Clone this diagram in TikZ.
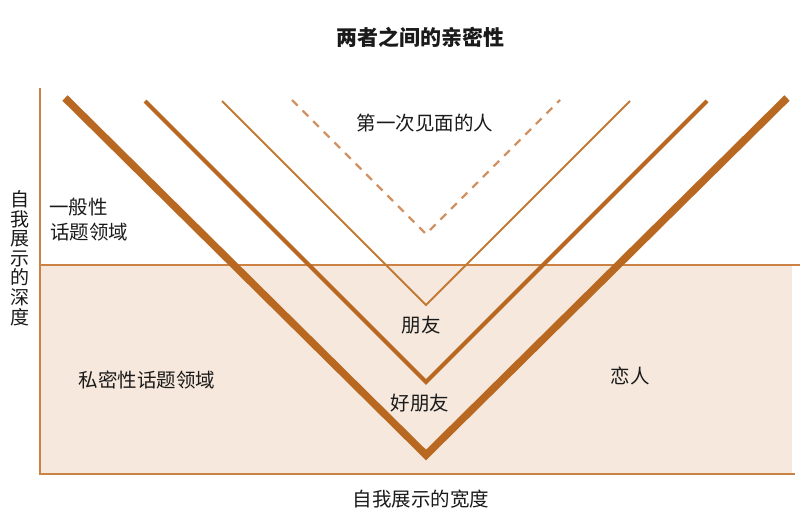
\documentclass[tikz,border=0pt]{standalone}
\usepackage{fontspec}
\newfontfamily\cjk{Noto Sans CJK SC}
\definecolor{thickc}{HTML}{B86820}
\definecolor{thinc}{HTML}{C27A35}
\definecolor{dashc}{HTML}{D09262}
\definecolor{axisc}{HTML}{CC8244}
\definecolor{fillc}{HTML}{F6E8DC}
\definecolor{txt}{HTML}{1A1A1A}
\tikzset{
  lbl/.style={inner sep=0pt, text=txt, font=\cjk\fontsize{19.5}{21}\selectfont},
  ttl/.style={inner sep=0pt, text=txt, font=\cjk\bfseries\fontsize{21}{23}\selectfont},
  axisline/.style={draw=axisc, line width=1.6pt},
  vthick/.style={draw=thickc, line width=7.5pt, line join=miter},
  vmed/.style={draw=thickc, line width=4pt, line join=miter},
  vthin/.style={draw=thinc, line width=1.8pt},
  vdash/.style={draw=dashc, line width=2.2pt, dash pattern=on 8pt off 7pt}
}
\begin{document}
\begin{tikzpicture}[x=1pt,y=-1pt]
\useasboundingbox (0,0) rectangle (800,524);
% shaded lower region
\fill[fillc] (40,265) rectangle (792,474);
% axes and divider
\coordinate (axtop) at (40,88);
\coordinate (axorig) at (40,474);
\coordinate (axright) at (795,474);
\coordinate (divl) at (40,265);
\coordinate (divr) at (800,265);
\draw[axisline] (divl) -- (divr);
\draw[axisline] (axtop) -- (axorig) -- (axright);
% V shapes
\coordinate (a1) at (65,98);   \coordinate (b1) at (426,455); \coordinate (c1) at (787,98);
\coordinate (a2) at (145,101); \coordinate (b2) at (426,382); \coordinate (c2) at (707,101);
\coordinate (a3) at (222,101); \coordinate (b3) at (426,305); \coordinate (c3) at (630,101);
\coordinate (a4) at (292,100); \coordinate (b4) at (426,234); \coordinate (c4) at (560,100);
\draw[vthick] (a1) -- (b1) -- (c1);
\draw[vmed] (a2) -- (b2) -- (c2);
\draw[vthin] (a3) -- (b3) -- (c3);
\draw[vdash] (a4) -- (b4) -- (c4);
% labels
\node[ttl] (title) at (420,37) {两者之间的亲密性};
\node[lbl] (first) at (425,123) {第一次见面的人};
\node[lbl, anchor=west] (gen1) at (49,207) {一般性};
\node[lbl, anchor=west] (gen2) at (50,232) {话题领域};
\node[lbl] (friend) at (421,325) {朋友};
\node[lbl] (good) at (420,403) {好朋友};
\node[lbl] (priv) at (147,380) {私密性话题领域};
\node[lbl] (lover) at (630,376) {恋人};
\node[lbl] (xlab) at (421,499) {自我展示的宽度};
\node[lbl, align=center, font=\cjk\fontsize{19}{19.6}\selectfont] (ylab) at (20,258) {自\\我\\展\\示\\的\\深\\度};
\end{tikzpicture}
\end{document}
